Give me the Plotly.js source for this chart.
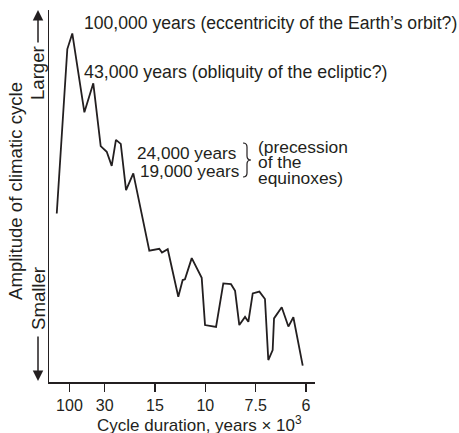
<!DOCTYPE html>
<html>
<head>
<meta charset="utf-8">
<script src="https://cdn.plot.ly/plotly-3.0.1.min.js"></script>
<style>html,body{margin:0;padding:0;background:#fff;}#chart{width:459px;height:433px;}</style>
</head>
<body>
<div id="chart"></div>
<script>
// Frequency of cycle (cycles per 1000 years) and relative amplitude (arbitrary units)
const frequencyPerKyr = [0.0016,0.0086,0.0119,0.0199,0.0258,0.0307,0.0347,0.0380,0.0408,0.0440,0.0475,0.0523,0.0629,0.0695,0.0713,0.0751,0.0821,0.0850,0.0865,0.0910,0.0976,0.0998,0.1071,0.1119,0.1170,0.1197,0.1225,0.1263,0.1285,0.1314,0.1358,0.1395,0.1417,0.1446,0.1455,0.1506,0.1550,0.1583,0.1645];
const amplitude = [45.3,89.5,93.7,72.5,80.3,63.4,61.9,58.1,65.1,64.0,51.6,56.1,35.3,35.8,34.8,35.7,22.9,27.4,27.6,33.3,28.0,15.3,14.8,26.5,26.3,24.5,15.3,17.5,16.2,23.8,24.3,22.3,5.9,8.6,17.1,20.1,14.9,17.4,4.4];
// Tick labels: cycle duration in thousands of years
const tickPeriodsKyr = [100, 30, 15, 10, 7.5, 6];
const tickLabels = ["100", "30", "15", "10", "7.5", "6"];

const FONT = "'Liberation Sans', Arial, Helvetica, sans-serif";
const INK = "#231f20";
const W = 459, H = 433, ML = 49, MR = 144, MT = 10, MB = 51;
const PW = W - ML - MR, PH = H - MT - MB;
function px(x){ return (x - ML) / PW; }
function py(y){ return (H - MB - y) / PH; }

const trace = {
  x: frequencyPerKyr, y: amplitude, type: 'scatter', mode: 'lines',
  line: {color: INK, width: 1.8}, hoverinfo: 'skip'
};

function txt(text, x, y, xanchor, size, angle){
  return {text: text, x: px(x), y: py(y), xref: 'paper', yref: 'paper', xanchor: xanchor, yanchor: 'middle',
    showarrow: false, font: {family: FONT, size: size, color: INK}, textangle: angle || 0, borderpad: 0};
}
function arrow(xTip, yTip, dy){
  return {text: '', x: px(xTip), y: py(yTip), xref: 'paper', yref: 'paper', showarrow: true,
    ax: 0, ay: dy, axref: 'pixel', ayref: 'pixel', arrowhead: 2, arrowsize: 1.4, arrowwidth: 1.5, arrowcolor: INK, standoff: 0};
}

const bx0 = 243, bx1 = 247, bx2 = 251, byT = 143, byM = 160, byB = 177, q = 4;
function P(x, y){ return px(x).toFixed(5) + ',' + py(y).toFixed(5); }
const bracePath = 'M' + P(bx0, byT) + ' Q' + P(bx1, byT) + ' ' + P(bx1, byT + q) +
  ' L' + P(bx1, byM - q) + ' Q' + P(bx1, byM) + ' ' + P(bx2, byM) +
  ' Q' + P(bx1, byM) + ' ' + P(bx1, byM + q) + ' L' + P(bx1, byB - q) +
  ' Q' + P(bx1, byB) + ' ' + P(bx0, byB);

const layout = {
  width: W, height: H,
  margin: {l: ML, r: MR, t: MT, b: MB, pad: 0},
  paper_bgcolor: '#fff', plot_bgcolor: '#fff',
  showlegend: false,
  xaxis: {
    range: [-0.00353, 0.17263], showgrid: false, zeroline: false,
    showline: true, linecolor: INK, linewidth: 1.5,
    ticks: 'outside', ticklen: 8, tickwidth: 1.5, tickcolor: INK,
    tickvals: tickPeriodsKyr.map(p => 1 / p), ticktext: tickLabels,
    tickfont: {family: FONT, size: 16, color: INK}
  },
  yaxis: {
    range: [0, 100], showgrid: false, zeroline: false,
    showline: true, linecolor: INK, linewidth: 1.5,
    ticks: '', showticklabels: false
  },
  shapes: [
    {type: 'path', xref: 'paper', yref: 'paper', path: bracePath, line: {color: INK, width: 1.2}}
  ],
  annotations: [
    txt('100,000 years (eccentricity of the Earth’s orbit?)', 83, 23, 'left', 17.6),
    txt('43,000 years (obliquity of the ecliptic?)', 83, 72, 'left', 17.8),
    txt('24,000 years', 237, 153, 'right', 17.2),
    txt('19,000 years', 240, 171, 'right', 17.2),
    txt('(precession', 257, 147, 'left', 17.4),
    txt('of the', 257, 162, 'left', 17.4),
    txt('equinoxes)', 257, 178, 'left', 17.4),
    txt('Cycle duration, years × 10<sup>3</sup>', 199, 424, 'center', 17),
    txt('Amplitude of climatic cycle', 15, 191, 'center', 18.6, -90),
    txt('Larger', 38, 73, 'center', 18.6, -90),
    txt('Smaller', 38, 299, 'center', 18.6, -90),
    arrow(38, 10, 34),
    arrow(38, 381, -46)
  ]
};

Plotly.newPlot('chart', [trace], layout, {staticPlot: true, displayModeBar: false});
</script>
</body>
</html>
